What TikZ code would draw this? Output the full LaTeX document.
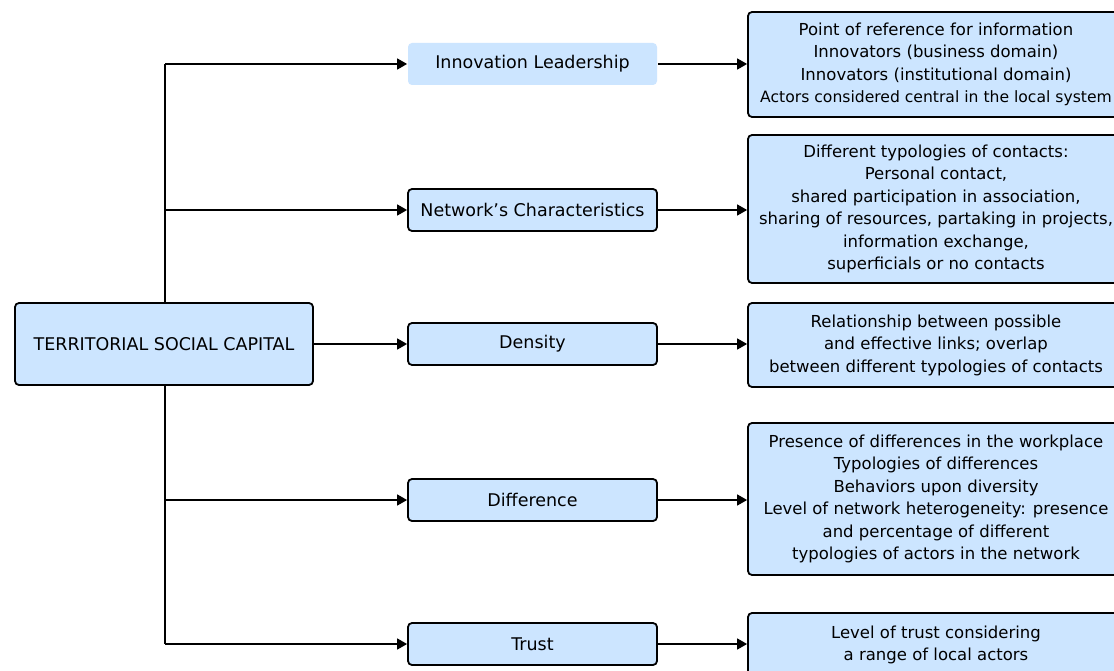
\documentclass[tikz,border=0pt]{standalone}
\usepackage{fontspec}
\setmainfont{DejaVu Sans}
\usetikzlibrary{arrows.meta}
\definecolor{boxblue}{RGB}{204,229,255}
\begin{document}
\begin{tikzpicture}[x=1pt,y=-1pt,
  box/.style={draw=black, line width=1.8pt, fill=boxblue, rounded corners=4pt,
    inner sep=0pt, align=center, font=\fontsize{17.5}{22}\selectfont},
  infobox/.style={box, minimum width=376pt, font=\fontsize{16.5}{22.5}\selectfont},
  midbox/.style={box, minimum width=249pt, minimum height=42pt},
  nobox/.style={midbox, draw=none},
  conn/.style={line width=1.5pt, -{Triangle[length=10pt,width=11pt]}},
  trunk/.style={line width=1.5pt}]
\useasboundingbox (0,0) rectangle (1114,671);
\clip (0,0) rectangle (1114,671);
\fill[white] (0,0) rectangle (1114,671);
\coordinate (t1) at (165,64);
\coordinate (t5) at (165,644);
\draw[trunk] (t1) -- (t5);
\node[box, minimum width=298pt, minimum height=82pt] (tsc) at (164,344) {TERRITORIAL SOCIAL CAPITAL};
\node[nobox] (il) at (532.5,64) {Innovation Leadership};
\node[midbox] (nc) at (532.5,210) {Network's Characteristics};
\node[midbox] (de) at (532.5,344) {Density};
\node[midbox] (di) at (532.5,500) {Difference};
\node[midbox] (tr) at (532.5,644) {Trust};
\node[infobox, minimum height=105pt] (r1) at (936,64.5) {Point of reference for information\\Innovators (business domain)\\Innovators (institutional domain)\\{\fontsize{15.6}{22.5}\selectfont Actors considered central in the local system}};
\node[infobox, minimum height=148pt] (r2) at (936,209) {Different typologies of contacts:\\Personal contact,\\shared participation in association,\\sharing of resources, partaking in projects,\\information exchange,\\superficials or no contacts};
\node[infobox, minimum height=84pt] (r3) at (936,345) {Relationship between possible\\and effective links; overlap\\between different typologies of contacts};
\node[infobox, minimum height=152pt] (r4) at (936,499) {Presence of differences in the workplace\\Typologies of differences\\Behaviors upon diversity\\Level of network heterogeneity: presence\\and percentage of different\\typologies of actors in the network};
\node[infobox, minimum height=64pt] (r5) at (936,645) {Level of trust considering\\a range of local actors};
\draw[conn] (t1) -- (il.west);
\draw[conn] (t1 |- nc.west) -- (nc.west);
\draw[conn] (tsc.east |- de.west) -- (de.west);
\draw[conn] (t1 |- di.west) -- (di.west);
\draw[conn] (t5) -- (tr.west);
\draw[conn] (il.east) -- (il.east -| r1.west);
\draw[conn] (nc.east) -- (nc.east -| r2.west);
\draw[conn] (de.east) -- (de.east -| r3.west);
\draw[conn] (di.east) -- (di.east -| r4.west);
\draw[conn] (tr.east) -- (tr.east -| r5.west);
\end{tikzpicture}
\end{document}
